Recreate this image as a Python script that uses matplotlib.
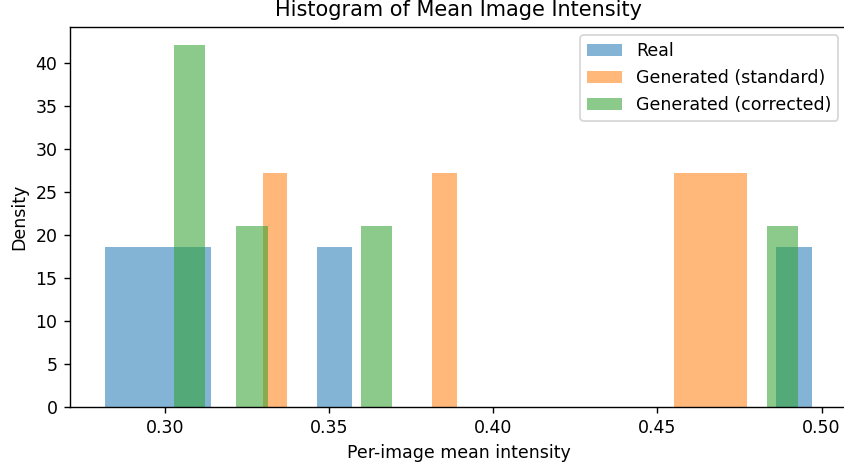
import matplotlib
matplotlib.use("Agg")
import matplotlib.pyplot as plt

# per-image mean intensities (5 images per group)
real = [0.2817, 0.2925, 0.3035, 0.3515, 0.4970]
generated_standard = [0.3298, 0.3850, 0.4590, 0.4665, 0.4773]
generated_corrected = [0.3027, 0.3070, 0.3260, 0.3640, 0.4929]

labels = ["Real", "Generated (standard)", "Generated (corrected)"]
n_bins = 20

dpi = 125
fig = plt.figure(figsize=(844 / dpi, 466 / dpi), dpi=dpi)
# right edge sits just past the figure, the original was cropped there
ax = fig.add_axes([0.0826, 0.1266, 0.921, 0.8161])

ax.hist(real, bins=n_bins, density=True, alpha=0.55, label=labels[0])
ax.hist(generated_standard, bins=n_bins, density=True, alpha=0.55, label=labels[1])
ax.hist(generated_corrected, bins=n_bins, density=True, alpha=0.55, label=labels[2])

ax.set_title("Histogram of Mean Image Intensity")
ax.set_xlabel("Per-image mean intensity")
ax.set_ylabel("Density")
ax.legend(loc="upper right")
ax.spines["right"].set_visible(False)  # cut off in the reference

fig.savefig("out.png", dpi=dpi)
